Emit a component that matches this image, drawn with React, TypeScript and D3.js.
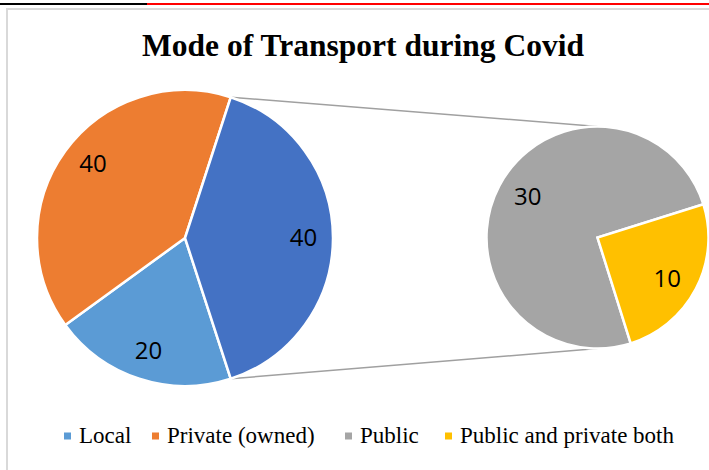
import React from 'react'
import * as d3 from 'd3'

// main pie: Local, Private, and the "Other" slice that gets split out
const mainLabels = ['Local', 'Private (owned)', 'Other']
const mainValues = [20, 40, 40]
const mainColors = ['#5B9BD5', '#ED7D31', '#4472C4']

// secondary pie (the split of "Other")
const subLabels = ['Public', 'Public and private both']
const subValues = [30, 10]
const subColors = ['#A5A5A5', '#FFC000']

const legendLabels = ['Local', 'Private (owned)', 'Public', 'Public and private both']
const legendColors = ['#5B9BD5', '#ED7D31', '#A5A5A5', '#FFC000']

const title = 'Mode of Transport during Covid'

const W = 709
const H = 470

const deg = (d: number) => (d * Math.PI) / 180

const main = { cx: 185, cy: 238, r: 148, start: 162 }
const sub = { cx: 597.5, cy: 237.5, r: 111, start: 162.6 }

const App = () => {
  const mainPie = d3.pie<number>().sort(null).value(d => d)
    .startAngle(deg(main.start)).endAngle(deg(main.start + 360))
  const subPie = d3.pie<number>().sort(null).value(d => d)
    .startAngle(deg(sub.start)).endAngle(deg(sub.start + 360))

  const mainArcs = mainPie(mainValues)
  const subArcs = subPie(subValues)

  const mainArc = d3.arc<d3.PieArcDatum<number>>().innerRadius(0).outerRadius(main.r)
  const subArc = d3.arc<d3.PieArcDatum<number>>().innerRadius(0).outerRadius(sub.r)

  const labelPos = (a: d3.PieArcDatum<number>, r: number, k: number, shift = 0) => {
    const m = (a.startAngle + a.endAngle) / 2 + deg(shift)
    return [Math.sin(m) * r * k, -Math.cos(m) * r * k]
  }

  // connector lines from the edges of "Other" to top/bottom of the second pie
  const other = mainArcs[2]
  const p1 = [main.cx + Math.sin(other.startAngle) * main.r, main.cy - Math.cos(other.startAngle) * main.r]
  const p2 = [main.cx + Math.sin(other.endAngle) * main.r, main.cy - Math.cos(other.endAngle) * main.r]

  const legendX = [64, 152, 345, 445]

  return (
    <svg width={W} height={H} style={{ position: 'absolute', left: 0, top: 0, display: 'block', background: '#fff' }}>
      <line x1={0} x2={147} y1={4} y2={4} stroke='#000' strokeWidth={2} />
      <line x1={147} x2={W} y1={4} y2={4} stroke='#ff0000' strokeWidth={2} />
      <rect x={7} y={9} width={760} height={520} fill='none' stroke='#d9d9d9' strokeWidth={2} />

      <text x={363} y={56} textAnchor='middle' fontFamily='Liberation Serif' fontWeight='bold' fontSize={31}
        textLength={442} lengthAdjust='spacingAndGlyphs' fill='#000'>
        {title}
      </text>

      <line x1={p1[0]} y1={p1[1]} x2={sub.cx} y2={sub.cy - sub.r} stroke='#a0a0a0' strokeWidth={1.5} />
      <line x1={p2[0]} y1={p2[1]} x2={sub.cx} y2={sub.cy + sub.r} stroke='#a0a0a0' strokeWidth={1.5} />

      <g transform={`translate(${main.cx},${main.cy})`}>
        {mainArcs.map((a, i) => (
          <path key={mainLabels[i]} d={mainArc(a) || ''} fill={mainColors[i]} stroke='#fff' strokeWidth={2.5} />
        ))}
        {mainArcs.map((a, i) => {
          const [x, y] = labelPos(a, main.r, 0.8, i === 1 ? 3 : 0)
          return (
            <text key={i} x={x} y={y} dy='0.35em' textAnchor='middle' fontFamily='Open Sans' fontSize={24} fill='#000'>
              {mainValues[i]}
            </text>
          )
        })}
      </g>

      <g transform={`translate(${sub.cx},${sub.cy})`}>
        {subArcs.map((a, i) => (
          <path key={subLabels[i]} d={subArc(a) || ''} fill={subColors[i]} stroke='#fff' strokeWidth={2.5} />
        ))}
        {subArcs.map((a, i) => {
          const [x, y] = labelPos(a, sub.r, 0.73, 3)
          return (
            <text key={i} x={x} y={y} dy='0.35em' textAnchor='middle' fontFamily='Open Sans' fontSize={24} fill='#000'>
              {subValues[i]}
            </text>
          )
        })}
      </g>

      <g>
        {legendLabels.map((l, i) => (
          <g key={l} transform={`translate(${legendX[i]},436)`}>
            <rect x={0} y={-3.5} width={7} height={7} fill={legendColors[i]} />
            <text x={15} y={7} fontFamily='Liberation Serif' fontSize={23} fill='#000'>
              {l}
            </text>
          </g>
        ))}
      </g>
    </svg>
  )
}

export default App
